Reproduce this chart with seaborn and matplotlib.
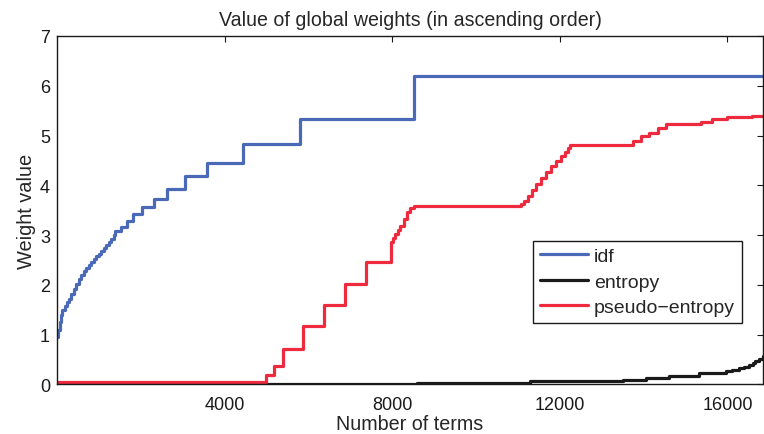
import pandas as pd
import matplotlib
matplotlib.use("Agg")
import matplotlib.pyplot as plt
import seaborn as sns

# -------------------------
# Data (step start x, level)
# -------------------------
idf_x = [0, 30, 60, 90, 120, 185, 230, 280, 340, 400, 460, 520, 580, 640, 700, 755,
         815, 875, 935, 995, 1050, 1110, 1170, 1230, 1290, 1349, 1388,
         1523, 1665, 1808, 2037, 2306, 2615, 3050, 3589, 4437, 5806, 8513, 16850]
idf_y = [0.95, 1.10, 1.25, 1.40, 1.50, 1.58, 1.66, 1.72, 1.82, 1.92, 2.02, 2.12, 2.20, 2.28, 2.34, 2.40,
         2.46, 2.52, 2.58, 2.63, 2.69, 2.74, 2.80, 2.86, 2.93, 3.00, 3.08,
         3.17, 3.29, 3.42, 3.56, 3.72, 3.93, 4.18, 4.45, 4.82, 5.33, 6.19, 6.19]

entropy_x = [0, 8600, 11300, 13500, 14057, 14610, 15322, 15955, 16100, 16271, 16400,
             16509, 16600, 16669, 16750, 16850]
entropy_y = [0.0, 0.04, 0.07, 0.10, 0.13, 0.18, 0.23, 0.28, 0.30, 0.33, 0.36,
             0.39, 0.43, 0.48, 0.52, 0.57]

pseudo_x = [0, 4990, 5188, 5387, 5877, 6375, 6876, 7375, 7976, 8030, 8078, 8140, 8197,
            8280, 8356, 8430, 8513, 11064, 11150, 11245, 11340, 11444, 11560, 11682,
            11800, 11919, 12020, 12116, 12190, 12252, 13755, 13938, 14120, 14333,
            14532, 15363, 15639, 15995, 16589, 16850]
pseudo_y = [0.05, 0.19, 0.37, 0.72, 1.17, 1.60, 2.01, 2.45, 2.86, 2.95, 3.02, 3.10, 3.19,
            3.33, 3.46, 3.54, 3.59, 3.62, 3.68, 3.79, 3.91, 4.03, 4.14, 4.26,
            4.38, 4.49, 4.58, 4.67, 4.74, 4.80, 4.90, 5.00, 5.06, 5.16,
            5.23, 5.27, 5.33, 5.37, 5.40, 5.40]

x_ticks = [4000, 8000, 12000, 16000]
y_ticks = [0, 1, 2, 3, 4, 5, 6, 7]

series = [
    ("idf", idf_x, idf_y, "#4a69b7"),
    ("entropy", entropy_x, entropy_y, "#1a1a1a"),
    ("pseudo\u2212entropy", pseudo_x, pseudo_y, "#ee2a3f"),
]

# -------------------------
# Plot
# -------------------------
sns.set_style("white")
plt.rcParams["font.family"] = ["Liberation Sans", "DejaVu Sans"]

fig = plt.figure(figsize=(7.64, 4.35), dpi=100)
ax = fig.add_axes([0.0746, 0.1138, 0.9241, 0.8013])

for name, xs, ys, col in series:
    df = pd.DataFrame({"x": xs, "y": ys})
    sns.lineplot(data=df, x="x", y="y", ax=ax, color=col, linewidth=2.3,
                 drawstyle="steps-post", label=name)

ax.set_xlim(0, 16850)
ax.set_ylim(0, 7)
ax.set_xticks(x_ticks)
ax.set_yticks(y_ticks)
ax.tick_params(direction="in", top=True, right=True, length=4, width=0.8,
               labelsize=13, colors="#1a1a1a")
ax.tick_params(axis="x", pad=8.5)
ax.tick_params(axis="y", pad=5)
for s in ax.spines.values():
    s.set_color("#1a1a1a")
    s.set_linewidth(1.0)

ax.set_title("Value of global weights (in ascending order)", fontsize=14.1, pad=8)
ax.set_xlabel("Number of terms", fontsize=14.2, labelpad=0.5)
ax.set_ylabel("Weight value", fontsize=14.4, labelpad=3)

leg = ax.legend(loc="upper left", bbox_to_anchor=(0.674, 0.412), fontsize=14,
                frameon=True, fancybox=False, framealpha=1, edgecolor="#1a1a1a",
                borderpad=0.35, labelspacing=0.4, handlelength=2.5, handletextpad=0.3,
                borderaxespad=0)
leg.get_frame().set_linewidth(1.0)

fig.savefig("out.png", dpi=100)
